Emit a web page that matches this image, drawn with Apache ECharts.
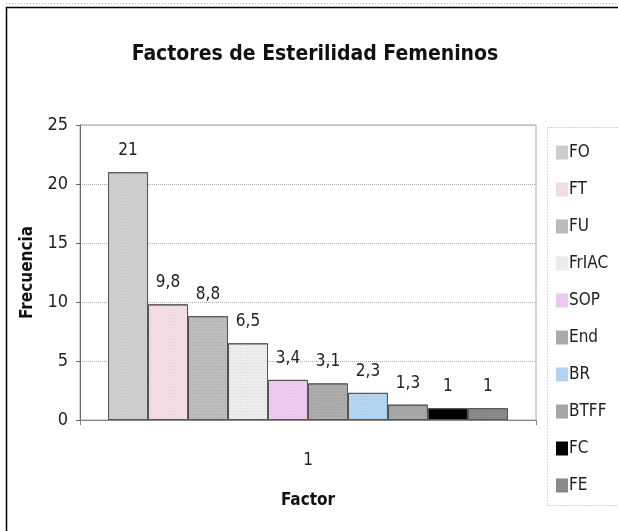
<!DOCTYPE html>
<html>
<head>
<meta charset="utf-8">
<script src="https://cdn.jsdelivr.net/npm/echarts@6/dist/echarts.min.js"></script>
<style>
html,body{margin:0;padding:0;background:#fff;}
#c{width:618px;height:531px;}
</style>
</head>
<body>
<div id="c"></div>
<script>
const categories = ['1'];
const seriesNames = ['FO','FT','FU','FrIAC','SOP','End','BR','BTFF','FC','FE'];
const seriesValues = [21, 9.8, 8.8, 6.5, 3.4, 3.1, 2.3, 1.3, 1, 1];
const valueLabels = ['21','9,8','8,8','6,5','3,4','3,1','2,3','1,3','1','1'];
const yTicks = [0, 5, 10, 15, 20, 25];

const colors = ['#cfcfcf','#f3dde6','#bdbdbd','#eeeeee','#eccbee','#a9a9a9','#b2d6f2','#a5a5a5','#000000','#8c8c8c'];
const decalColors = ['rgba(150,150,150,0.5)','rgba(200,170,185,0.5)','rgba(130,130,130,0.6)','rgba(170,170,170,0.7)','rgba(210,160,215,0.6)','rgba(220,220,220,0.7)','rgba(140,170,200,0.6)','rgba(200,200,200,0.7)','rgba(0,0,0,0)','rgba(60,60,60,0.6)'];
const FONT = '"DejaVu Sans Condensed","Liberation Sans Narrow","Liberation Sans",Arial,sans-serif';

const chart = echarts.init(document.getElementById('c'));
const series = seriesNames.map((n, i) => ({
  name: n,
  type: 'bar',
  data: [seriesValues[i]],
  barGap: '0%',
  barCategoryGap: '12.3%',
  itemStyle: {
    color: colors[i],
    borderColor: '#555',
    borderWidth: 1,
    decal: {
      symbol: 'rect',
      symbolSize: 0.5,
      dashArrayX: [2, 1],
      dashArrayY: [1, 2],
      color: decalColors[i]
    }
  },
  label: {
    show: true,
    position: 'top',
    distance: 13,
    formatter: () => valueLabels[i],
    fontFamily: FONT,
    fontSize: 17,
    color: '#222'
  }
}));

chart.setOption({
  animation: false,
  backgroundColor: '#fff',
  title: {
    text: 'Factores de Esterilidad Femeninos',
    left: 310,
    top: 39,
    textAlign: 'center',
    textStyle: {fontFamily: FONT, fontSize: 21, fontWeight: 'bold', color: '#111'}
  },
  grid: {left: 80, right: 82, top: 125, bottom: 111, show: true, borderColor: '#aaa', borderWidth: 1},
  legend: {
    orient: 'vertical',
    left: 551,
    top: 139,
    icon: 'rect',
    itemWidth: 12,
    itemHeight: 14,
    itemGap: 20,
    data: seriesNames,
    textStyle: {fontFamily: FONT, fontSize: 17, color: '#222', padding: [0,0,0,-4]},
    itemStyle: {borderWidth: 0}
  },
  xAxis: {
    type: 'category',
    data: categories,
    name: 'Factor',
    nameLocation: 'middle',
    nameGap: 72,
    nameTextStyle: {fontFamily: FONT, fontSize: 17, fontWeight: 'bold', color: '#111'},
    axisLine: {lineStyle: {color: '#888'}},
    axisTick: {show: true, alignWithLabel: false, lineStyle: {color: '#888'}},
    axisLabel: {fontFamily: FONT, fontSize: 17, color: '#222', margin: 32}
  },
  yAxis: {
    type: 'value',
    min: 0,
    max: 25,
    interval: 5,
    name: 'Frecuencia',
    nameLocation: 'middle',
    nameGap: 44,
    nameTextStyle: {fontFamily: FONT, fontSize: 17, fontWeight: 'bold', color: '#111'},
    axisLine: {show: true, lineStyle: {color: '#666'}},
    axisTick: {show: true, length: 4, lineStyle: {color: '#666'}},
    axisLabel: {fontFamily: FONT, fontSize: 18, color: '#222', margin: 12,
      formatter: v => yTicks.includes(v) ? String(v) : ''},
    splitLine: {show: true, lineStyle: {color: '#aaa', type: 'dotted'}}
  },
  graphic: [
    {type: 'rect', shape: {x: 6.5, y: 7.5, width: 640, height: 600}, style: {fill: 'none', stroke: '#000', lineWidth: 1.5}, silent: true},
    {type: 'line', shape: {x1: 6, y1: 3.5, x2: 618, y2: 3.5}, style: {stroke: '#bbb', lineDash: [1, 2]}, silent: true},
    {type: 'rect', shape: {x: 547.5, y: 127.5, width: 100, height: 378}, style: {fill: 'none', stroke: '#aaa', lineWidth: 1, lineDash: [1, 2]}, silent: true}
  ],
  series: series
});
</script>
</body>
</html>
